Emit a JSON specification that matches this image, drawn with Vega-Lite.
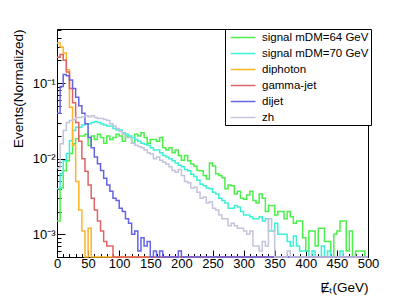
{
"$schema": "https://vega.github.io/schema/vega-lite/v6.json",
"width": 311, "height": 228,
"autosize": {"type": "none"},
"padding": {"left": 57, "top": 29, "right": 41, "bottom": 43},
"background": "white",
"config": {"view": {"stroke": "black", "strokeWidth": 1}, "font": "Liberation Sans"},
"data": {"values": [
{"x":0,"s64":0.0015,"s70":0.004,"dip":0.34,"gj":0.22,"dij":0.04,"zh":0.0076},
{"x":5,"s64":0.0041,"s70":0.0063,"dip":0.30,"gj":0.24,"dij":0.09,"zh":0.0158},
{"x":10,"s64":0.0069,"s70":0.0094,"dip":0.25,"gj":0.20,"dij":0.13,"zh":0.0236},
{"x":15,"s64":0.0094,"s70":0.0117,"dip":0.15,"gj":0.14,"dij":0.125,"zh":0.030},
{"x":20,"s64":0.0117,"s70":0.0173,"dip":0.048,"gj":0.085,"dij":0.11,"zh":0.032},
{"x":25,"s64":0.0158,"s70":0.0236,"dip":0.015,"gj":0.055,"dij":0.085,"zh":0.033},
{"x":30,"s64":0.0184,"s70":0.026,"dip":0.005,"gj":0.03,"dij":0.065,"zh":0.035},
{"x":35,"s64":0.020,"s70":0.026,"dip":0.0021,"gj":0.017,"dij":0.05,"zh":0.035},
{"x":40,"s64":0.020,"s70":0.028,"dip":0.0011,"gj":0.010,"dij":0.04,"zh":0.036},
{"x":45,"s64":0.021,"s70":0.029,"dip":0.0001,"gj":0.0068,"dij":0.029,"zh":0.037},
{"x":50,"s64":0.0149,"s70":0.029,"dip":0.0012,"gj":0.0045,"dij":0.019,"zh":0.036},
{"x":55,"s64":0.020,"s70":0.030,"dip":0.0001,"gj":0.0030,"dij":0.014,"zh":0.037},
{"x":60,"s64":0.018,"s70":0.031,"dip":0.0001,"gj":0.0021,"dij":0.0105,"zh":0.035},
{"x":65,"s64":0.021,"s70":0.030,"dip":0.0001,"gj":0.0015,"dij":0.0086,"zh":0.034},
{"x":70,"s64":0.019,"s70":0.029,"dip":0.0001,"gj":0.0011,"dij":0.007,"zh":0.034},
{"x":75,"s64":0.016,"s70":0.028,"dip":0.0001,"gj":0.0008,"dij":0.0055,"zh":0.033},
{"x":80,"s64":0.020,"s70":0.027,"dip":0.0001,"gj":0.0007,"dij":0.0045,"zh":0.032},
{"x":85,"s64":0.018,"s70":0.027,"dip":0.0001,"gj":0.0007,"dij":0.0037,"zh":0.029},
{"x":90,"s64":0.019,"s70":0.025,"dip":0.0001,"gj":0.0001,"dij":0.003,"zh":0.027},
{"x":95,"s64":0.021,"s70":0.024,"dip":0.0001,"gj":0.0001,"dij":0.0028,"zh":0.025},
{"x":100,"s64":0.020,"s70":0.024,"dip":0.0001,"gj":0.0001,"dij":0.0022,"zh":0.023},
{"x":105,"s64":0.017,"s70":0.022,"dip":0.0001,"gj":0.0001,"dij":0.002,"zh":0.021},
{"x":110,"s64":0.020,"s70":0.021,"dip":0.0001,"gj":0.0001,"dij":0.0016,"zh":0.019},
{"x":115,"s64":0.019,"s70":0.020,"dip":0.0001,"gj":0.0001,"dij":0.0014,"zh":0.019},
{"x":120,"s64":0.016,"s70":0.019,"dip":0.0001,"gj":0.0001,"dij":0.001,"zh":0.016},
{"x":125,"s64":0.021,"s70":0.018,"dip":0.0001,"gj":0.0001,"dij":0.0011,"zh":0.015},
{"x":130,"s64":0.020,"s70":0.017,"dip":0.0001,"gj":0.0001,"dij":0.0006,"zh":0.0145},
{"x":135,"s64":0.022,"s70":0.016,"dip":0.0001,"gj":0.0001,"dij":0.0009,"zh":0.014},
{"x":140,"s64":0.019,"s70":0.0155,"dip":0.0001,"gj":0.0001,"dij":0.0007,"zh":0.013},
{"x":145,"s64":0.016,"s70":0.015,"dip":0.0001,"gj":0.0001,"dij":0.0008,"zh":0.012},
{"x":150,"s64":0.018,"s70":0.014,"dip":0.0001,"gj":0.0001,"dij":0.0005,"zh":0.0115},
{"x":155,"s64":0.018,"s70":0.013,"dip":0.0001,"gj":0.0001,"dij":0.0006,"zh":0.010},
{"x":160,"s64":0.017,"s70":0.013,"dip":0.0001,"gj":0.0001,"dij":0.0001,"zh":0.0105},
{"x":165,"s64":0.019,"s70":0.012,"dip":0.0001,"gj":0.0001,"dij":0.0006,"zh":0.0095},
{"x":170,"s64":0.014,"s70":0.011,"dip":0.0001,"gj":0.0001,"dij":0.0001,"zh":0.0090},
{"x":175,"s64":0.013,"s70":0.0105,"dip":0.0001,"gj":0.0001,"dij":0.0005,"zh":0.0085},
{"x":180,"s64":0.014,"s70":0.010,"dip":0.0001,"gj":0.0001,"dij":0.0001,"zh":0.0078},
{"x":185,"s64":0.012,"s70":0.0094,"dip":0.0001,"gj":0.0001,"dij":0.0001,"zh":0.0070},
{"x":190,"s64":0.013,"s70":0.0088,"dip":0.0001,"gj":0.0001,"dij":0.0001,"zh":0.0066},
{"x":195,"s64":0.011,"s70":0.0082,"dip":0.0001,"gj":0.0001,"dij":0.0006,"zh":0.0072},
{"x":200,"s64":0.0095,"s70":0.0078,"dip":0.0001,"gj":0.0001,"dij":0.0001,"zh":0.0060},
{"x":205,"s64":0.011,"s70":0.0072,"dip":0.0001,"gj":0.0001,"dij":0.0001,"zh":0.0050},
{"x":210,"s64":0.0094,"s70":0.0069,"dip":0.0001,"gj":0.0001,"dij":0.0001,"zh":0.0048},
{"x":215,"s64":0.0085,"s70":0.0062,"dip":0.0001,"gj":0.0001,"dij":0.0001,"zh":0.0041},
{"x":220,"s64":0.0080,"s70":0.0058,"dip":0.0001,"gj":0.0001,"dij":0.0001,"zh":0.0042},
{"x":225,"s64":0.0070,"s70":0.0052,"dip":0.0001,"gj":0.0001,"dij":0.0001,"zh":0.0036},
{"x":230,"s64":0.0069,"s70":0.0046,"dip":0.0001,"gj":0.0001,"dij":0.0001,"zh":0.0030},
{"x":235,"s64":0.0060,"s70":0.0044,"dip":0.0001,"gj":0.0001,"dij":0.0001,"zh":0.0031},
{"x":240,"s64":0.0054,"s70":0.0041,"dip":0.0001,"gj":0.0001,"dij":0.0001,"zh":0.0026},
{"x":245,"s64":0.0088,"s70":0.0040,"dip":0.0001,"gj":0.0001,"dij":0.0001,"zh":0.0027},
{"x":250,"s64":0.0080,"s70":0.0036,"dip":0.0001,"gj":0.0001,"dij":0.0001,"zh":0.0022},
{"x":255,"s64":0.0063,"s70":0.0034,"dip":0.0001,"gj":0.0001,"dij":0.0001,"zh":0.0021},
{"x":260,"s64":0.0060,"s70":0.0030,"dip":0.0001,"gj":0.0001,"dij":0.0001,"zh":0.0018},
{"x":265,"s64":0.0056,"s70":0.0028,"dip":0.0001,"gj":0.0001,"dij":0.0001,"zh":0.0016},
{"x":270,"s64":0.0040,"s70":0.0026,"dip":0.0001,"gj":0.0001,"dij":0.0001,"zh":0.0016},
{"x":275,"s64":0.0045,"s70":0.0022,"dip":0.0001,"gj":0.0001,"dij":0.0001,"zh":0.0013},
{"x":280,"s64":0.0044,"s70":0.0022,"dip":0.0001,"gj":0.0001,"dij":0.0001,"zh":0.0014},
{"x":285,"s64":0.0034,"s70":0.0024,"dip":0.0001,"gj":0.0001,"dij":0.0001,"zh":0.0013},
{"x":290,"s64":0.0037,"s70":0.0023,"dip":0.0001,"gj":0.0001,"dij":0.0001,"zh":0.0012},
{"x":295,"s64":0.0030,"s70":0.0020,"dip":0.0001,"gj":0.0001,"dij":0.0001,"zh":0.0012},
{"x":300,"s64":0.0029,"s70":0.0018,"dip":0.0001,"gj":0.0001,"dij":0.0001,"zh":0.0011},
{"x":305,"s64":0.0033,"s70":0.0018,"dip":0.0001,"gj":0.0001,"dij":0.0001,"zh":0.0010},
{"x":310,"s64":0.0037,"s70":0.0017,"dip":0.0001,"gj":0.0001,"dij":0.0001,"zh":0.0011},
{"x":315,"s64":0.0028,"s70":0.0016,"dip":0.0001,"gj":0.0001,"dij":0.0001,"zh":0.0007},
{"x":320,"s64":0.0026,"s70":0.0016,"dip":0.0001,"gj":0.0001,"dij":0.0001,"zh":0.0007},
{"x":325,"s64":0.0034,"s70":0.0017,"dip":0.0001,"gj":0.0001,"dij":0.0001,"zh":0.0006},
{"x":330,"s64":0.0030,"s70":0.0015,"dip":0.0001,"gj":0.0001,"dij":0.0001,"zh":0.0008},
{"x":335,"s64":0.0020,"s70":0.0016,"dip":0.0001,"gj":0.0001,"dij":0.0001,"zh":0.0007},
{"x":340,"s64":0.0024,"s70":0.0011,"dip":0.0001,"gj":0.0001,"dij":0.0001,"zh":0.0016},
{"x":345,"s64":0.0024,"s70":0.0011,"dip":0.0001,"gj":0.0001,"dij":0.0001,"zh":0.0011},
{"x":350,"s64":0.0018,"s70":0.0014,"dip":0.0001,"gj":0.0001,"dij":0.0001,"zh":0.0001},
{"x":355,"s64":0.0020,"s70":0.0010,"dip":0.0001,"gj":0.0001,"dij":0.0001,"zh":0.0005},
{"x":360,"s64":0.0020,"s70":0.0010,"dip":0.0001,"gj":0.0001,"dij":0.0001,"zh":0.0001},
{"x":365,"s64":0.0016,"s70":0.0010,"dip":0.0001,"gj":0.0001,"dij":0.0001,"zh":0.0001},
{"x":370,"s64":0.0020,"s70":0.0008,"dip":0.0001,"gj":0.0001,"dij":0.0001,"zh":0.0006},
{"x":375,"s64":0.0017,"s70":0.0007,"dip":0.0001,"gj":0.0001,"dij":0.0001,"zh":0.0001},
{"x":380,"s64":0.0014,"s70":0.00095,"dip":0.0001,"gj":0.0001,"dij":0.0001,"zh":0.0001},
{"x":385,"s64":0.0015,"s70":0.0007,"dip":0.0001,"gj":0.0001,"dij":0.0001,"zh":0.0001},
{"x":390,"s64":0.0015,"s70":0.0006,"dip":0.0001,"gj":0.0001,"dij":0.0001,"zh":0.0001},
{"x":395,"s64":0.0009,"s70":0.0006,"dip":0.0001,"gj":0.0001,"dij":0.0001,"zh":0.0001},
{"x":400,"s64":0.0006,"s70":0.0006,"dip":0.0001,"gj":0.0001,"dij":0.0001,"zh":0.0001},
{"x":405,"s64":0.0011,"s70":0.0005,"dip":0.0001,"gj":0.0001,"dij":0.0001,"zh":0.0001},
{"x":410,"s64":0.0011,"s70":0.0006,"dip":0.0001,"gj":0.0001,"dij":0.0001,"zh":0.0001},
{"x":415,"s64":0.0007,"s70":0.0004,"dip":0.0001,"gj":0.0001,"dij":0.0001,"zh":0.0001},
{"x":420,"s64":0.0012,"s70":0.0005,"dip":0.0001,"gj":0.0001,"dij":0.0001,"zh":0.0001},
{"x":425,"s64":0.0012,"s70":0.0007,"dip":0.0001,"gj":0.0001,"dij":0.0001,"zh":0.0001},
{"x":430,"s64":0.0008,"s70":0.0004,"dip":0.0001,"gj":0.0001,"dij":0.0001,"zh":0.0001},
{"x":435,"s64":0.0008,"s70":0.0006,"dip":0.0001,"gj":0.0001,"dij":0.0001,"zh":0.0001},
{"x":440,"s64":0.0005,"s70":0.0004,"dip":0.0001,"gj":0.0001,"dij":0.0001,"zh":0.0001},
{"x":445,"s64":0.0010,"s70":0.0005,"dip":0.0001,"gj":0.0001,"dij":0.0001,"zh":0.0001},
{"x":450,"s64":0.0011,"s70":0.0005,"dip":0.0001,"gj":0.0001,"dij":0.0001,"zh":0.0001},
{"x":455,"s64":0.0015,"s70":0.0006,"dip":0.0001,"gj":0.0001,"dij":0.0001,"zh":0.0001},
{"x":460,"s64":0.0015,"s70":0.0001,"dip":0.0001,"gj":0.0001,"dij":0.0001,"zh":0.0001},
{"x":465,"s64":0.0006,"s70":0.0001,"dip":0.0001,"gj":0.0001,"dij":0.0001,"zh":0.0001},
{"x":470,"s64":0.0011,"s70":0.0001,"dip":0.0001,"gj":0.0001,"dij":0.0001,"zh":0.0001},
{"x":475,"s64":0.0005,"s70":0.0001,"dip":0.0001,"gj":0.0001,"dij":0.0001,"zh":0.0001},
{"x":480,"s64":0.0006,"s70":0.0001,"dip":0.0001,"gj":0.0001,"dij":0.0001,"zh":0.0001},
{"x":485,"s64":0.0006,"s70":0.0001,"dip":0.0001,"gj":0.0001,"dij":0.0001,"zh":0.0001},
{"x":490,"s64":0.0006,"s70":0.0001,"dip":0.0001,"gj":0.0001,"dij":0.0001,"zh":0.0001},
{"x":495,"s64":0.0001,"s70":0.0001,"dip":0.0001,"gj":0.0001,"dij":0.0001,"zh":0.0001},
{"x":500,"s64":0.0001,"s70":0.0001,"dip":0.0001,"gj":0.0001,"dij":0.0001,"zh":0.0001}
]},
"transform": [{"fold": ["s64","s70","dip","gj","dij","zh"], "as": ["series","val"]}],
"mark": {"type": "line", "interpolate": "step-after", "strokeWidth": 1.5},
"encoding": {
  "x": {"field": "x", "type": "quantitative",
    "scale": {"domain": [0, 500], "nice": false, "zero": false},
    "axis": {"title": "\u0246\u209c(GeV)",
      "values": [0,10,20,30,40,50,60,70,80,90,100,110,120,130,140,150,160,170,180,190,200,210,220,230,240,250,260,270,280,290,300,310,320,330,340,350,360,370,380,390,400,410,420,430,440,450,460,470,480,490,500],
      "labelExpr": "datum.value % 50 == 0 ? datum.label : ''",
      "tickSize": -7,
      "tickDash": {"condition": {"test": "datum.value % 50 == 0", "value": [7, 0]}, "value": [3.5, 20]},
      "tickColor": "black", "domainColor": "black", "grid": false,
      "labelFontSize": 13, "labelColor": "black", "labelPadding": 7, "labelFlush": false, "labelOverlap": false,
      "titleFontSize": 13.5, "titleFontWeight": "normal", "titleColor": "black",
      "titleAlign": "right", "titleX": 311, "titleY": 34, "titleBaseline": "alphabetic"}},
  "y": {"field": "val", "type": "quantitative",
    "scale": {"type": "log", "domain": [0.0005, 0.52], "clamp": true, "nice": false},
    "axis": {"title": "Events(Normalized)",
      "values": [0.0005,0.0006,0.0007,0.0008,0.0009,0.001,0.002,0.003,0.004,0.005,0.006,0.007,0.008,0.009,0.01,0.02,0.03,0.04,0.05,0.06,0.07,0.08,0.09,0.1,0.2,0.3,0.4,0.5],
      "labelExpr": "datum.value == 0.1 ? '10\u207b\u00b9' : datum.value == 0.01 ? '10\u207b\u00b2' : datum.value == 0.001 ? '10\u207b\u00b3' : ''",
      "tickSize": -8,
      "tickDash": {"condition": {"test": "datum.value == 0.1 || datum.value == 0.01 || datum.value == 0.001", "value": [8, 0]}, "value": [4, 20]},
      "tickColor": "black", "domainColor": "black", "grid": false,
      "labelFontSize": 13, "labelColor": "black", "labelPadding": 10, "labelFlush": false, "labelOverlap": false,
      "titleFontSize": 13.5, "titleFontWeight": "normal", "titleColor": "black",
      "titleAngle": 270, "titleAlign": "right", "titleX": -35, "titleY": 0, "titleBaseline": "alphabetic"}},
  "color": {"field": "series", "type": "nominal",
    "scale": {"domain": ["s64","s70","dip","gj","dij","zh"], "range": ["#4cf04c","#3ef0d4","#ffb428","#e06464","#6464e6","#c4c4dc"]},
    "legend": {"orient": "none", "legendX": 168, "legendY": 0, "title": null,
      "labelExpr": "{'s64':'signal mDM=64 GeV','s70':'signal mDM=70 GeV','dip':'diphoton','gj':'gamma-jet','dij':'dijet','zh':'zh'}[datum.value]",
      "symbolType": "M-0.5,0H4", "symbolSize": 121, "symbolStrokeWidth": 1.5,
      "labelFontSize": 11.5, "labelColor": "black", "labelOffset": 22, "labelLimit": 250,
      "padding": 2, "rowPadding": 4, "strokeColor": "black", "fillColor": "white"}}
}
}
